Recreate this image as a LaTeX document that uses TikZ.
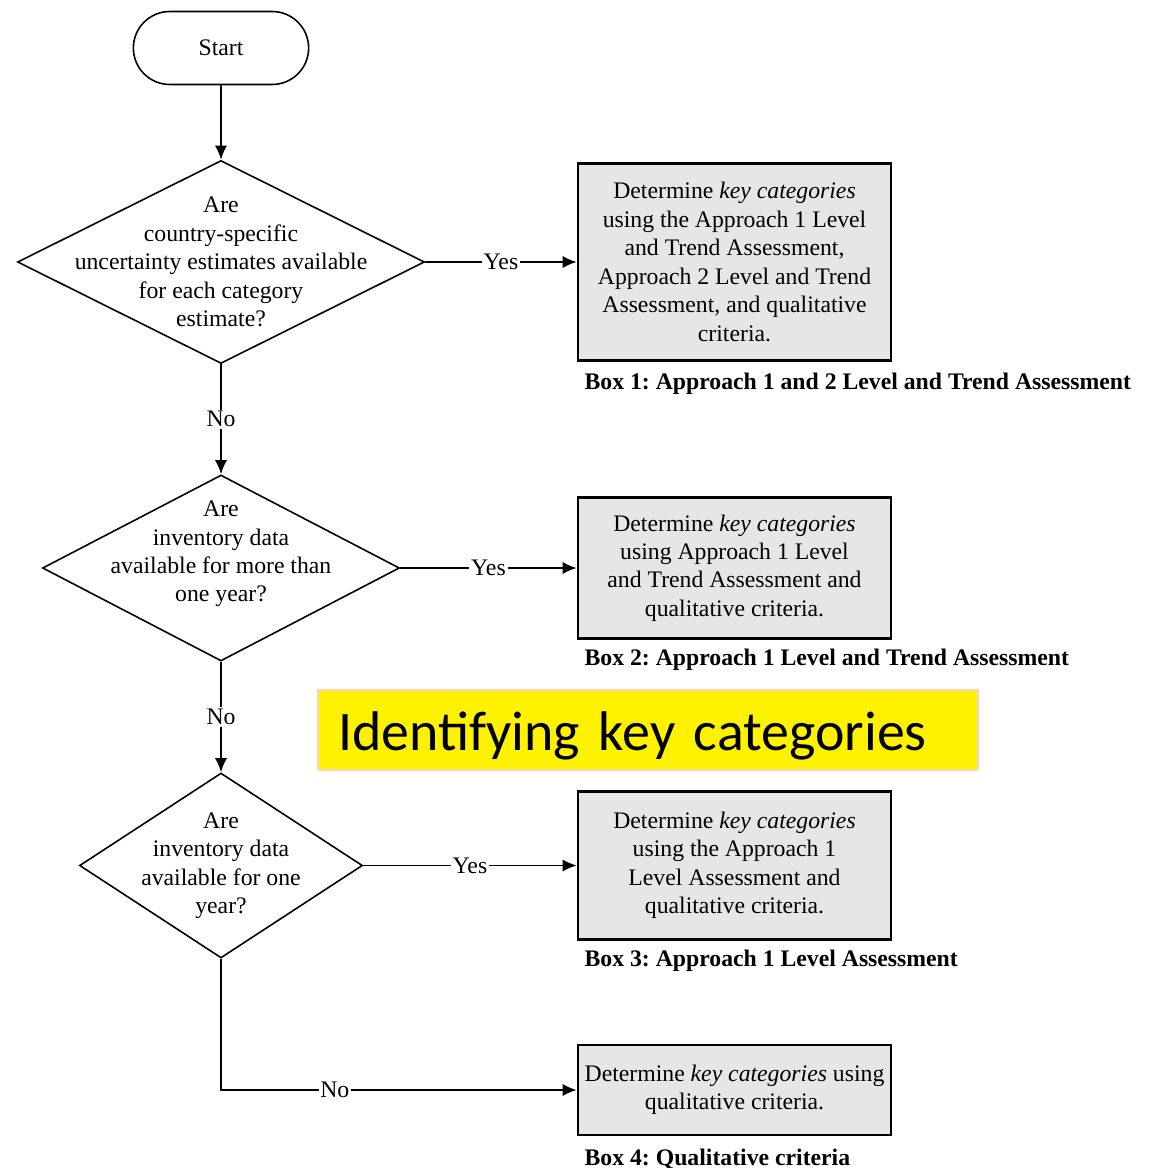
\documentclass[tikz,border=0pt]{standalone}
\usepackage{fontspec}
\setmainfont{Liberation Serif}
\newfontfamily\bannerfont{Carlito}
\usepackage{tikz}
\usetikzlibrary{shapes.geometric,shapes.misc,arrows.meta}
\definecolor{boxgray}{RGB}{230,230,230}
\definecolor{peach}{RGB}{250,212,185}
\frenchspacing

\begin{document}
\begin{tikzpicture}[>={Latex[length=8pt,width=7pt]}, line width=1.1pt,
  font=\fontsize{13.5}{16.2}\selectfont,
  term/.style={rounded rectangle, draw, line width=0.9pt, minimum width=3.74cm, minimum height=1.46cm},
  decision/.style={diamond, draw, line width=0.9pt, inner sep=0pt},
  qtext/.style={align=center, inner sep=0pt},
  result/.style={draw, fill=boxgray, line width=1.5pt, minimum width=6.26cm, align=center},
  boxcap/.style={anchor=base west, inner sep=0pt, font=\fontsize{13.5}{16.2}\selectfont\bfseries},
  lbl/.style={fill=white, inner sep=1pt}]
\useasboundingbox (0,0) rectangle (23.02,-23.36);

\node[term] (start) at (4.42,-0.96) {Start};

\node[decision, minimum width=8.14cm, minimum height=4.06cm] (q1) at (4.42,-5.24) {};
\node[qtext] (q1t) at (q1.center) {Are\\country-specific\\uncertainty estimates available\\for each category\\estimate?};
\node[decision, minimum width=7.14cm, minimum height=3.72cm] (q2) at (4.42,-11.36) {};
\node[qtext] (q2t) at ([yshift=0.28cm]q2.center) {Are\\inventory data\\available for more than\\one year?};
\node[decision, minimum width=5.66cm, minimum height=3.70cm] (q3) at (4.42,-17.31) {};
\node[qtext] (q3t) at (q3.center) {Are\\inventory data\\available for one\\year?};

\node[result, minimum height=3.94cm] (b1) at (14.69,-5.24) {Determine \textit{key categories}\\using the Approach 1 Level\\and Trend Assessment,\\Approach 2 Level and Trend\\Assessment, and qualitative\\criteria.};
\node[result, minimum height=2.82cm] (b2) at (14.69,-11.36) {Determine \textit{key categories}\\using Approach 1 Level\\and Trend Assessment and\\qualitative criteria.};
\node[result, minimum height=2.96cm] (b3) at (14.69,-17.31) {Determine \textit{key categories}\\using the Approach 1\\Level Assessment and\\qualitative criteria.};
\node[result, minimum height=1.80cm] (b4) at (14.69,-21.80) {Determine \textit{key categories} using\\qualitative criteria.};

\node[boxcap] (c1) at ([xshift=0.14cm,yshift=-0.56cm]b1.south west) {Box 1: Approach 1 and 2 Level and Trend Assessment};
\node[boxcap] (c2) at ([xshift=0.14cm,yshift=-0.52cm]b2.south west) {Box 2: Approach 1 Level and Trend Assessment};
\node[boxcap] (c3) at ([xshift=0.14cm,yshift=-0.52cm]b3.south west) {Box 3: Approach 1 Level Assessment};
\node[boxcap] (c4) at ([xshift=0.14cm,yshift=-0.58cm]b4.south west) {Box 4: Qualitative criteria};

\node[draw=peach, fill=yellow, line width=0.8pt, minimum width=13.2cm, minimum height=1.6cm,
  text width=12.4cm, text height=0.9cm, text depth=0.1cm, align=left,
  font=\bannerfont\fontsize{31.8}{36}\selectfont] (banner) at (12.96,-14.60) {Identifying key categories};

\draw[->] (start) -- (q1);
\draw[->] (q1) -- (b1) node[midway, lbl] {Yes};
\draw[->] (q1) -- (q2) node[midway, lbl] {No};
\draw[->] (q2) -- (b2) node[midway, lbl] {Yes};
\draw[->] (q2) -- (q3) node[midway, lbl] {No};
\draw[->] (q3) -- (b3) node[midway, lbl] {Yes};
\draw[->] (q3) |- (b4) node[pos=0.66, lbl] {No};
\end{tikzpicture}
\end{document}
